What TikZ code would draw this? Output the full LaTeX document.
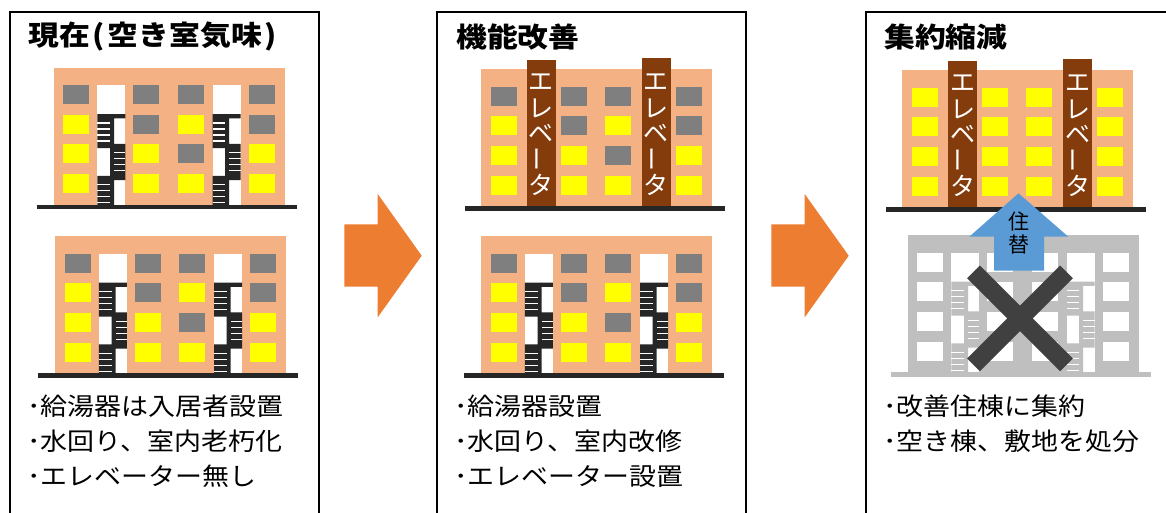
\documentclass[tikz,border=0pt]{standalone}
\usepackage{fontspec}
\setmainfont{Noto Sans CJK JP}[FakeStretch=1.1]
\newfontfamily\titlefont{Noto Sans CJK JP}[FakeStretch=1.12]
\newfontfamily\liftfont{Noto Sans CJK JP}

\definecolor{wall}{HTML}{F4B183}
\definecolor{wg}{HTML}{7F7F7F}
\definecolor{wy}{HTML}{FFFF00}
\definecolor{lift}{HTML}{843C0C}
\definecolor{ink}{HTML}{262626}
\definecolor{arrowor}{HTML}{ED7D31}
\definecolor{arrowbl}{HTML}{5B9BD5}
\definecolor{cross}{HTML}{404040}
\definecolor{ghost}{HTML}{BFBFBF}

% window colours, row by row (4 per row, 4 rows)
\def\OldPattern{wg,wg,wg,wg,wy,wg,wy,wg,wy,wy,wg,wy,wy,wy,wy,wy}
\def\LitPattern{wy,wy,wy,wy,wy,wy,wy,wy,wy,wy,wy,wy,wy,wy,wy,wy}
\def\BlankPattern{white,white,white,white,white,white,white,white,white,white,white,white,white,white,white,white}

% 4x4 grid of windows on a facade
\newcommand\WindowGrid[1]{%
  \foreach \wc [count=\wi from 0] in #1{%
    \pgfmathtruncatemacro\wcol{mod(\wi,4)}%
    \pgfmathtruncatemacro\wrow{\wi/4}%
    \pgfmathsetmacro\wx{{9.5,79.5,124,195}[\wcol]}%
    \fill[fill=\wc] (\wx,17.5+29.7*\wrow) rectangle ++(26,19);
  }}

% open stairwell: #1 left offset, #2 step colour, #3 well colour
\newcommand\StairWell[3]{%
  \begin{scope}[shift={(#1,0)}]
    \fill[#3] (0,17.5) rectangle (28,139.5);
    \fill[#2] (0,46.5) rectangle (28,50.8)
              (0,76.3) rectangle (28,80.6)
              (0,108.3) rectangle (28,112.6)
              (12.7,46.5) rectangle (16.7,139.5)
              (0,50.8) rectangle (12.7,76.3)
              (16.7,80.6) rectangle (28,108.3)
              (0,112.6) rectangle (12.7,139.5);
    \foreach \sy in {54.8,60.8,66.8,72.8}{\fill[#3] (0,\sy) rectangle (12.7,\sy+1.3);}
    \foreach \sy in {84.6,90.6,96.6,102.6}{\fill[#3] (16.7,\sy) rectangle (28,\sy+1.3);}
    \foreach \sy in {116.6,122.6,128.6,134.6}{\fill[#3] (0,\sy) rectangle (12.7,\sy+1.3);}
  \end{scope}}

% elevator shaft with vertical label: #1 left, #2 top, #3 name prefix
\newcommand\LiftShaft[3]{%
  \fill[lift] (#1,#2) rectangle (#1+29.5,139.5);
  \foreach \ch [count=\k from 0] in {エ,レ,ベ,\rotatebox[origin=c]{90}{ー},タ}{%
    \node[lifttext] (#3-\k) at (#1+14.75,13.5+25.6*\k) {\ch};}}

% block with open stairwells: #1 origin, #2 windows, #3 wall, #4 steps, #5 ground
\newcommand\StairBlock[5]{%
  \begin{scope}[shift={(#1)}]
    \fill[#3] (0,0) rectangle (231,139.5);
    \WindowGrid{#2}
    \StairWell{43.8}{#4}{white}
    \StairWell{159}{#4}{white}
    \draw[line width=4.5pt,#5] (-17,139.5) -- (243,139.5);
  \end{scope}}

% block with elevators: #1 origin, #2 windows, #3 name prefix
\newcommand\LiftBlock[3]{%
  \begin{scope}[shift={(#1)}]
    \fill[wall] (0,0) rectangle (231,139.5);
    \WindowGrid{#2}
    \LiftShaft{45.5}{-9}{#3a}
    \LiftShaft{160.5}{-11}{#3b}
    \draw[line width=4.5pt,ink] (-16,139.5) -- (244,139.5);
  \end{scope}}

\begin{document}
\begin{tikzpicture}[x=1pt,y=-1pt,
  frame/.style={draw=black,line width=1.8pt},
  title/.style={anchor=west,inner sep=0pt,font=\titlefont\bfseries\fontsize{27.5}{30}\selectfont},
  item/.style={anchor=west,inner sep=0pt,font=\fontsize{24.5}{28}\selectfont},
  lifttext/.style={inner sep=0pt,text=white,font=\liftfont\fontsize{25}{27}\selectfont},
  tag/.style={inner sep=0pt,text=black,font=\liftfont\fontsize{21}{23}\selectfont},
  flow/.style={fill=arrowor},
  move/.style={fill=arrowbl},
  strike/.style={draw=cross,line width=18pt}]
\useasboundingbox (0,0) rectangle (1166,512);
\clip (0,0) rectangle (1166,512);
\fill[white] (0,0) rectangle (1166,512);

% panels
\draw[frame] (10,12) rectangle (319,540);
\draw[frame] (437,12) rectangle (746,540);
\draw[frame] (866,12) rectangle (1175,540);

% titles
\node[title] (t1) at (28,36.7) {現在\makebox[0.66em][c]{(}空き室気味\makebox[0.66em][c]{)}};
\node[title] (t2) at (456,36.7) {機能改善};
\node[title] (t3) at (884,36.7) {集約縮減};

% current state
\StairBlock{53.5,67.5}{\OldPattern}{wall}{ink}{ink}
\StairBlock{55,236}{\OldPattern}{wall}{ink}{ink}

% improved
\LiftBlock{481,69}{\OldPattern}{p2}
\StairBlock{481,236}{\OldPattern}{wall}{ink}{ink}

% consolidated
\StairBlock{907.5,235}{\BlankPattern}{ghost}{ghost}{ghost}
\draw[strike] (973.5,271.8) -- (1066.5,364.8);
\draw[strike] (1066.5,271.8) -- (973.5,364.8);
\LiftBlock{902.3,70}{\LitPattern}{p3}
\fill[move] (994,270.7) -- (994,236.7) -- (969.3,236.7) -- (1018.5,193.3)
  -- (1068.3,236.7) -- (1044,236.7) -- (1044,270.7) -- cycle;
\node[tag] (m1) at (1018.5,221) {住};
\node[tag] (m2) at (1018.5,244.5) {替};

% transition arrows
\fill[flow] (344.3,224.3) -- (377.7,224.3) -- (377.7,194) -- (421.7,255.7)
  -- (377.7,317.3) -- (377.7,286.7) -- (344.3,286.7) -- cycle;
\fill[flow] (771.3,224.3) -- (804.7,224.3) -- (804.7,194) -- (848.7,255.7)
  -- (804.7,317.3) -- (804.7,286.7) -- (771.3,286.7) -- cycle;

% notes
\node[item] (a1) at (27,406.5) {･給湯器は入居者設置};
\node[item] (a2) at (27,441.5) {･水回り、室内老朽化};
\node[item] (a3) at (27,476.5) {･エレベーター無し};
\node[item] (b1) at (454,406.5) {･給湯器設置};
\node[item] (b2) at (454,441.5) {･水回り、室内改修};
\node[item] (b3) at (454,476.5) {･エレベーター設置};
\node[item] (c1) at (883,406.5) {･改善住棟に集約};
\node[item] (c2) at (883,441.5) {･空き棟、敷地を処分};
\end{tikzpicture}
\end{document}
